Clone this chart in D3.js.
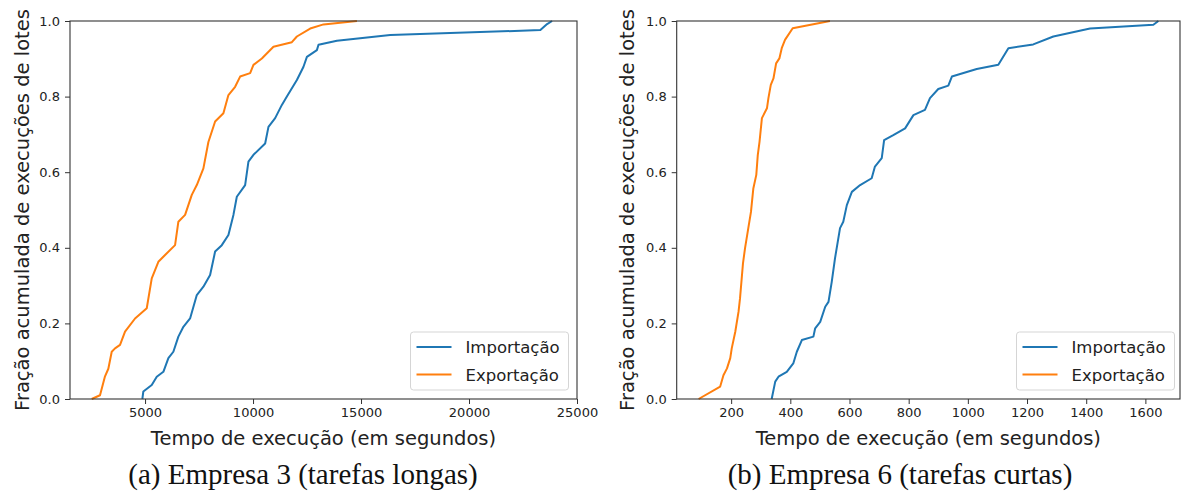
<!DOCTYPE html>
<html>
<head>
<meta charset="utf-8">
<script src="https://cdn.jsdelivr.net/npm/d3@7"></script>
<style>
  body { margin: 0; background: #fff; }
  svg { display: block; font-family: "DejaVu Sans", sans-serif; }
  .tick text { fill: #222; }
</style>
</head>
<body>
<script>
// Empresa 3 (tarefas longas) - tempos em segundos e fracao acumulada
var e3ImportTempo = [4875, 4921, 5310, 5542, 5848, 6080, 6311, 6543, 6775, 7085, 7396, 7702, 8012, 8244, 8554, 8860, 9092, 9249, 9634, 9787, 10019, 10561, 10714, 11024, 11335, 11567, 12030, 12336, 12494, 12957, 13031, 13884, 16353, 23304, 23615, 23847];
var e3ImportFracao = [0.0, 0.02, 0.037, 0.059, 0.072, 0.108, 0.125, 0.165, 0.191, 0.213, 0.275, 0.297, 0.328, 0.39, 0.407, 0.434, 0.487, 0.535, 0.566, 0.628, 0.646, 0.676, 0.72, 0.743, 0.778, 0.80, 0.844, 0.879, 0.905, 0.923, 0.937, 0.948, 0.963, 0.976, 0.992, 1.0];
var e3ExportTempo = [2530, 2915, 3146, 3300, 3457, 3610, 3842, 4073, 4537, 5079, 5310, 5616, 5927, 6390, 6543, 6854, 7164, 7396, 7702, 7933, 8244, 8628, 8860, 9171, 9402, 9866, 10019, 10408, 10945, 11798, 12030, 12646, 13263, 14810];
var e3ExportFracao = [0.0, 0.01, 0.06, 0.08, 0.125, 0.134, 0.143, 0.178, 0.213, 0.24, 0.319, 0.363, 0.381, 0.407, 0.469, 0.487, 0.54, 0.566, 0.61, 0.68, 0.734, 0.756, 0.804, 0.826, 0.853, 0.862, 0.884, 0.901, 0.932, 0.944, 0.959, 0.98, 0.991, 1.0];

// Empresa 6 (tarefas curtas)
var e6ImportTempo = [337, 349, 360, 388, 410, 422, 439, 478, 484, 501, 518, 529, 540, 551, 568, 579, 591, 608, 636, 675, 686, 709, 717, 748, 788, 816, 855, 872, 900, 934, 946, 1030, 1103, 1137, 1221, 1289, 1413, 1627, 1644];
var e6ImportFracao = [0.0, 0.046, 0.059, 0.072, 0.094, 0.125, 0.156, 0.165, 0.187, 0.204, 0.244, 0.257, 0.31, 0.372, 0.452, 0.469, 0.513, 0.548, 0.566, 0.584, 0.615, 0.637, 0.685, 0.698, 0.716, 0.751, 0.765, 0.796, 0.82, 0.829, 0.853, 0.873, 0.884, 0.928, 0.938, 0.959, 0.98, 0.99, 1.0];
var e6ExportTempo = [90, 163, 174, 186, 197, 202, 214, 225, 230, 240, 247, 258, 267, 275, 285, 290, 296, 304, 321, 326, 334, 343, 352, 363, 371, 382, 408, 534];
var e6ExportFracao = [0.0, 0.033, 0.063, 0.081, 0.108, 0.134, 0.178, 0.231, 0.266, 0.359, 0.399, 0.452, 0.495, 0.557, 0.593, 0.645, 0.681, 0.743, 0.769, 0.796, 0.831, 0.848, 0.888, 0.901, 0.928, 0.95, 0.981, 1.0];

var e3Ticks = [5000, 10000, 15000, 20000, 25000];
var e6Ticks = [200, 400, 600, 800, 1000, 1200, 1400, 1600];
var yTicks = [0, 0.2, 0.4, 0.6, 0.8, 1.0];
var seriesNames = ["Importação", "Exportação"];
var colors = ["#1f77b4", "#ff7f0e"];

var svg = d3.select("body")
    .append("svg")
    .attr("width", 1181)
    .attr("height", 494);

function pairs(xs, ys) {
    return xs.map(function (v, i) { return [v, ys[i]]; });
}

function drawPanel(cfg) {
    var x = d3.scaleLinear().domain(cfg.xDomain).range([cfg.left, cfg.right]);
    var y = d3.scaleLinear().domain([0, 1]).range([399, 21]);

    var g = svg.append("g");

    // lines
    var line = d3.line()
        .x(function (d) { return x(d[0]); })
        .y(function (d) { return y(d[1]); });

    var clipId = "clip" + cfg.id;
    g.append("clipPath").attr("id", clipId)
        .append("rect")
        .attr("x", cfg.left).attr("y", 20)
        .attr("width", cfg.right - cfg.left).attr("height", 380);

    cfg.series.forEach(function (s, i) {
        g.append("path")
            .datum(s)
            .attr("clip-path", "url(#" + clipId + ")")
            .attr("fill", "none")
            .attr("stroke", colors[i])
            .attr("stroke-width", 2)
            .attr("stroke-linejoin", "round")
            .attr("d", line);
    });

    // frame
    g.append("rect")
        .attr("x", cfg.left).attr("y", 21)
        .attr("width", cfg.right - cfg.left).attr("height", 378)
        .attr("fill", "none")
        .attr("stroke", "#333")
        .attr("stroke-width", 1.1);

    // axes
    var xAxis = g.append("g")
        .attr("transform", "translate(0,399)")
        .call(d3.axisBottom(x).tickValues(cfg.xTicks).tickFormat(d3.format("d"))
            .tickSize(5).tickPadding(4).tickSizeOuter(0));
    var yAxis = g.append("g")
        .attr("transform", "translate(" + cfg.left + ",0)")
        .call(d3.axisLeft(y).tickValues(yTicks).tickFormat(d3.format(".1f"))
            .tickSize(5).tickPadding(5).tickSizeOuter(0));
    [xAxis, yAxis].forEach(function (a) {
        a.select(".domain").remove();
        a.selectAll("line").attr("stroke", "#333");
        a.selectAll("text").style("font-size", "13px").style("font-family", "DejaVu Sans");
    });

    // axis labels
    g.append("text")
        .attr("x", (cfg.left + cfg.right) / 2)
        .attr("y", 445)
        .attr("text-anchor", "middle")
        .style("font-size", "19.5px")
        .style("fill", "#222")
        .text("Tempo de execução (em segundos)");

    g.append("text")
        .attr("transform", "translate(" + cfg.yLabelX + ",210) rotate(-90)")
        .attr("text-anchor", "middle")
        .attr("dy", "0.35em")
        .style("font-size", "19.5px")
        .style("fill", "#222")
        .text("Fração acumulada de execuções de lotes");

    // legend
    var lg = g.append("g").attr("transform", "translate(" + cfg.legendX + ",332)");
    lg.append("rect")
        .attr("width", 158).attr("height", 58)
        .attr("rx", 3)
        .attr("fill", "#fff").attr("fill-opacity", 0.8)
        .attr("stroke", "#d5d5d5");
    seriesNames.forEach(function (n, i) {
        var ly = 15 + i * 27.6;
        lg.append("line")
            .attr("x1", 6).attr("x2", 41)
            .attr("y1", ly).attr("y2", ly)
            .attr("stroke", colors[i]).attr("stroke-width", 2);
        lg.append("text")
            .attr("x", 55).attr("y", ly)
            .attr("dy", "0.36em")
            .style("font-size", "16.5px")
            .style("fill", "#222")
            .text(n);
    });

    // caption
    svg.append("text")
        .attr("x", cfg.captionX)
        .attr("y", 484)
        .attr("text-anchor", "middle")
        .style("font-family", "'Liberation Serif', 'DejaVu Serif', serif")
        .style("font-size", "29px")
        .style("fill", "#111")
        .text(cfg.caption);
}

drawPanel({
    id: "a",
    left: 70, right: 577,
    xDomain: [1525, 25000],
    xTicks: e3Ticks,
    series: [pairs(e3ImportTempo, e3ImportFracao), pairs(e3ExportTempo, e3ExportFracao)],
    yLabelX: 22,
    legendX: 410.5,
    captionX: 303,
    caption: "(a) Empresa 3 (tarefas longas)"
});

drawPanel({
    id: "b",
    left: 676.7, right: 1180,
    xDomain: [16, 1717],
    xTicks: e6Ticks,
    series: [pairs(e6ImportTempo, e6ImportFracao), pairs(e6ExportTempo, e6ExportFracao)],
    yLabelX: 627,
    legendX: 1016.5,
    captionX: 900,
    caption: "(b) Empresa 6 (tarefas curtas)"
});
</script>
</body>
</html>
